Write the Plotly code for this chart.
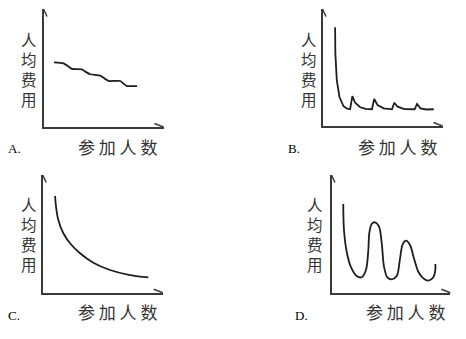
import plotly.graph_objects as go

W, H = 466, 339

# ---------------- data (arbitrary units 0-100 on each panel) ----------------
a_x = [8.8, 16.6, 20.5, 23.6, 32.0, 35.5, 38.9, 47.3, 51.0, 54.2, 64.0, 67.0, 69.6, 78.0]
a_y = [54.8, 54.0, 51.5, 49.2, 48.9, 46.5, 44.7, 43.5, 41.0, 39.0, 39.0, 36.5, 34.7, 34.7]

b_x = [10.5, 10.7, 11.9, 14.1, 17.4, 20.0, 23.0, 24.9, 27.2, 31.4, 36.0, 41.2, 43.1, 45.9,
       50.9, 57.9, 59.8, 62.6, 68.2, 76.8, 78.8, 81.6, 86.6, 92.7]
b_y = [84.4, 62.4, 39.3, 25.0, 17.1, 15.0, 14.3, 25.6, 19.9, 16.0, 14.6, 14.3, 23.1, 17.9,
       15.1, 14.3, 19.9, 16.5, 14.5, 14.3, 18.8, 15.1, 14.1, 14.3]

c_x = [10.3, 11.1, 13.0, 17.2, 22.8, 31.1, 42.2, 56.1, 72.8, 88.0]
c_y = [82.2, 73.1, 61.8, 50.5, 42.0, 33.5, 25.5, 19.3, 15.0, 13.1]

d_x = [9.9, 10.5, 12.8, 16.2, 21.2, 25.4, 29.0, 31.0, 31.8, 33.8, 36.6, 40.0, 42.3, 44.2,
       47.0, 50.7, 54.9, 57.7, 59.9, 62.7, 66.1, 69.4, 73.1, 77.3, 81.5, 85.7, 87.4, 87.4]
d_y = [75.4, 53.3, 34.8, 22.1, 14.2, 13.1, 19.3, 36.3, 50.5, 58.4, 59.8, 56.1, 42.0, 22.1,
       13.1, 11.4, 14.2, 29.2, 41.1, 44.2, 40.5, 29.2, 17.8, 12.2, 10.2, 13.1, 19.3, 24.4]

panel_letters = ["A.", "B.", "C.", "D."]
y_title = ["人", "均", "费", "用"]
x_title = "参 加 人 数"

# ---------------- layout geometry (pixels) ----------------
# (x_left, x_right, y_bottom, y_top) of each axis box
boxes = [
    (43.5, 163.5, 127, 9),
    (322.5, 442.5, 126, 9),
    (42.7, 162.7, 292.7, 175),
    (331.5, 450.3, 292.7, 175),
]
letter_pos = [(14, 148.5), (294, 148.5), (13.5, 315.5), (301.5, 315.5)]
xtitle_pos = [(117.5, 146), (397, 146), (117.5, 311), (405.5, 311)]
ytitle_pos = [(29, 68.5), (308.5, 68.5), (29, 234), (315, 234)]

series = [(a_x, a_y, 0.5), (b_x, b_y, 0), (c_x, c_y, 1.0), (d_x, d_y, 0.9)]

fig = go.Figure()
layout = dict(
    width=W, height=H, margin=dict(l=0, r=0, t=0, b=0),
    paper_bgcolor="white", plot_bgcolor="white", showlegend=False,
)
annotations = []
shapes = []
axcol = "#3a3a3a"
txtcol = "#333333"
for i, (bx0, bx1, byb, byt) in enumerate(boxes):
    n = "" if i == 0 else str(i + 1)
    xa, ya = "xaxis" + n, "yaxis" + n
    xr, yr = "x" + n, "y" + n
    common = dict(showgrid=False, zeroline=False, showticklabels=False, ticks="",
                  showline=True, linecolor=axcol, linewidth=2, range=[0, 100], fixedrange=True)
    layout[xa] = dict(domain=[bx0 / W, bx1 / W], anchor=yr, **common)
    layout[ya] = dict(domain=[1 - byb / H, 1 - byt / H], anchor=xr, **common)
    sx, sy, sm = series[i]
    fig.add_trace(go.Scatter(
        x=sx, y=sy, mode="lines", xaxis=xr, yaxis=yr, cliponaxis=False,
        line=dict(color="#1e1e1e", width=1.8,
                  shape="spline" if sm > 0 else "linear", smoothing=sm if sm > 0 else None),
        hoverinfo="skip"))
    # half-arrow barbs
    shapes.append(dict(type="line", xref=xr + " domain", yref=yr + " domain",
                       x0=0, y0=1, x1=3.5 / (bx1 - bx0), y1=1 - 7.5 / (byb - byt),
                       line=dict(color=axcol, width=1.5)))
    shapes.append(dict(type="line", xref=xr + " domain", yref=yr + " domain",
                       x0=1, y0=0, x1=1 - 9 / (bx1 - bx0), y1=3.5 / (byb - byt),
                       line=dict(color=axcol, width=1.5)))
    # panel letter
    lx, ly = letter_pos[i]
    annotations.append(dict(text=panel_letters[i], x=lx / W, y=1 - ly / H, xref="paper", yref="paper",
                            showarrow=False, xanchor="center", yanchor="middle",
                            font=dict(family="Liberation Serif", size=13, color="black")))
    # x title
    tx, ty = xtitle_pos[i]
    annotations.append(dict(text=x_title, x=tx / W, y=1 - ty / H, xref="paper", yref="paper",
                            showarrow=False, xanchor="center", yanchor="middle",
                            font=dict(family="Noto Sans CJK SC", size=17, color=txtcol)))
    # y title, stacked vertically in one text
    yx, yy = ytitle_pos[i]
    annotations.append(dict(text="<br>".join(y_title), x=yx / W, y=1 - yy / H,
                            xref="paper", yref="paper", showarrow=False,
                            xanchor="center", yanchor="middle", align="center",
                            font=dict(family="Noto Sans CJK SC", size=15.5, color=txtcol)))

layout["annotations"] = annotations
layout["shapes"] = shapes
fig.update_layout(**layout)
fig.write_html("out.html")
